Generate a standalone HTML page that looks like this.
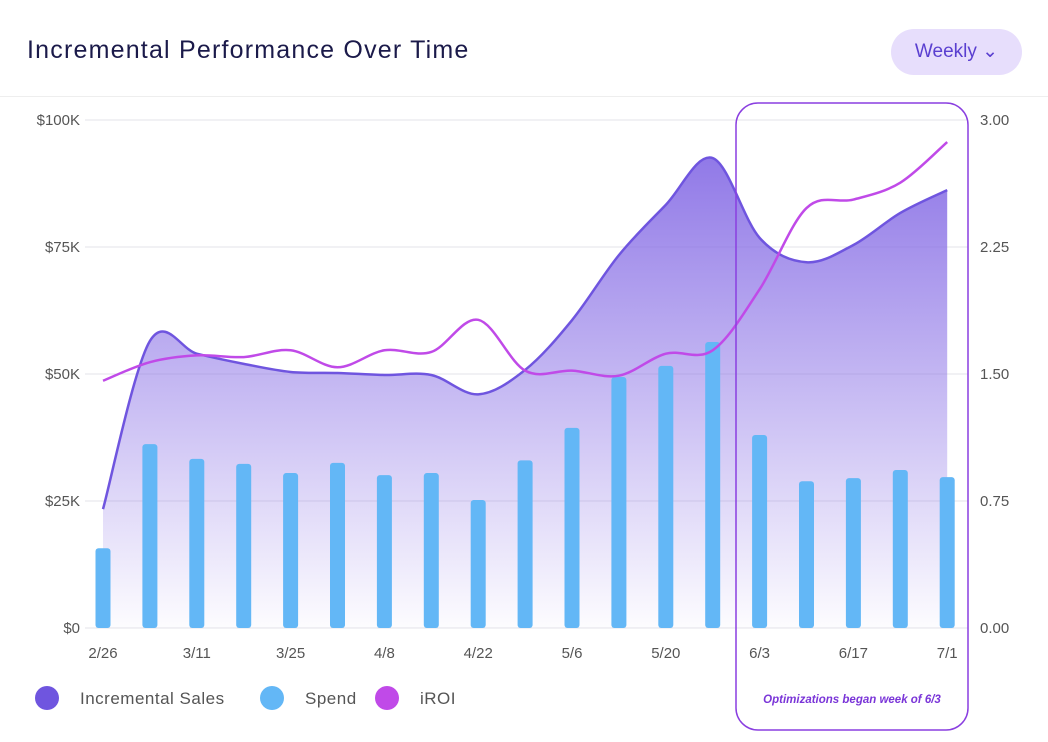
<!DOCTYPE html>
<html><head><meta charset="utf-8"><style>
body{margin:0;background:#fff;font-family:"Liberation Sans",sans-serif}
#wrap{position:relative;width:1048px;height:742px;overflow:hidden}
</style></head><body>
<div id="wrap">
<div style="position:absolute;left:27px;top:36px;font-size:25px;letter-spacing:1.2px;color:#1b1a4a">Incremental Performance Over Time</div>
<div style="position:absolute;left:891px;top:29px;width:131px;height:46px;border-radius:23px;background:#e7defc;color:#5a3fd0;font-size:19px;line-height:46px;text-align:center">Weekly &#8964;</div>
<div style="position:absolute;left:0;top:96px;width:1048px;height:1px;background:#eee"></div>
<svg id="chart" width="1048" height="742" style="position:absolute;left:0;top:0"></svg>
</div>
<script>
const categories=["2/26","3/4","3/11","3/18","3/25","4/1","4/8","4/15","4/22","4/29","5/6","5/13","5/20","5/27","6/3","6/10","6/17","6/24","7/1"];
const spend=[15.7,36.2,33.3,32.3,30.5,32.5,30.1,30.5,25.2,33,39.4,49.4,51.6,56.3,38,28.9,29.5,31.1,29.7];
const sales=[23.4,56.5,54,52,50.4,50.2,49.8,49.8,46,50.8,60.6,73.4,83.3,92.5,76.8,72,75.4,81.7,86.2];
const iroi=[1.46,1.57,1.61,1.60,1.64,1.54,1.64,1.63,1.82,1.52,1.52,1.49,1.62,1.64,2.0,2.48,2.53,2.63,2.87];
const leftTicks=["$0","$25K","$50K","$75K","$100K"];
const rightTicks=["0.00","0.75","1.50","2.25","3.00"];
const NS="http://www.w3.org/2000/svg";
const svg=document.getElementById('chart');
const x0=103,dx=46.9,y0=628,yTop=120;
const X=i=>x0+i*dx;
const YL=v=>y0-(v/100)*(y0-yTop);
const YR=v=>y0-(v/3)*(y0-yTop);
function el(t,a){const e=document.createElementNS(NS,t);for(const k in a)e.setAttribute(k,a[k]);svg.appendChild(e);return e;}
svg.innerHTML='<defs><linearGradient id="g" x1="0" y1="0" x2="0" y2="1"><stop offset="0" stop-color="#8b72e6" stop-opacity="0.95"/><stop offset="1" stop-color="#8b72e6" stop-opacity="0.02"/></linearGradient></defs>';
for(let k=0;k<5;k++){
 const y=y0-k*(y0-yTop)/4;
 let g=el('line',{x1:85,x2:968,y1:y,y2:y,stroke:'#e3e3e8','stroke-width':1});
 
 let t=el('text',{x:80,y:y+5,'text-anchor':'end','font-size':15,fill:'#555'});t.textContent=leftTicks[k];
 
 let r=el('text',{x:980,y:y+5,'font-size':15,fill:'#555'});r.textContent=rightTicks[k];
 
}
function smooth(pts){let d='M'+pts[0][0]+','+pts[0][1];for(let i=0;i<pts.length-1;i++){const p0=pts[Math.max(0,i-1)],p1=pts[i],p2=pts[i+1],p3=pts[Math.min(pts.length-1,i+2)];const c1=[p1[0]+(p2[0]-p0[0])/6,p1[1]+(p2[1]-p0[1])/6],c2=[p2[0]-(p3[0]-p1[0])/6,p2[1]-(p3[1]-p1[1])/6];d+=' C'+c1+' '+c2+' '+p2;}return d;}
const sp=sales.map((v,i)=>[X(i),YL(v)]);
const sd=smooth(sp);
let area=el('path',{d:sd+' L'+X(sales.length-1)+','+y0+' L'+X(0)+','+y0+' Z',fill:'url(#g)'});

spend.forEach((v,i)=>{let b=el('rect',{x:X(i)-7.5,y:YL(v),width:15,height:y0-YL(v),rx:3,fill:'#63b7f6'});
 });
let sl=el('path',{d:sd,fill:'none',stroke:'#6f55df','stroke-width':2.5});

let il=el('path',{d:smooth(iroi.map((v,i)=>[X(i),YR(v)])),fill:'none',stroke:'#c04ae8','stroke-width':2.5});

categories.forEach((c,i)=>{if(i%2)return;let t=el('text',{x:X(i),y:658,'text-anchor':'middle','font-size':15,fill:'#555'});t.textContent=c;
 });
let hr=el('rect',{x:736,y:103,width:232,height:627,rx:22,fill:'none',stroke:'#8a3fe0','stroke-width':1.5});

let ht=el('text',{x:852,y:703,'text-anchor':'middle','font-size':11.5,'font-style':'italic','font-weight':'bold',fill:'#7a35d8'});ht.textContent='Optimizations began week of 6/3';

[["Incremental Sales",47,'#6f55df'],["Spend",272,'#63b7f6'],["iROI",387,'#c04ae8']].forEach(([n,x,c])=>{
 let ci=el('circle',{cx:x,cy:698,r:12,fill:c});
 let t=el('text',{x:x+33,y:704,'font-size':17,fill:'#555','letter-spacing':'0.5'});t.textContent=n;
 });
</script>
</body></html>
